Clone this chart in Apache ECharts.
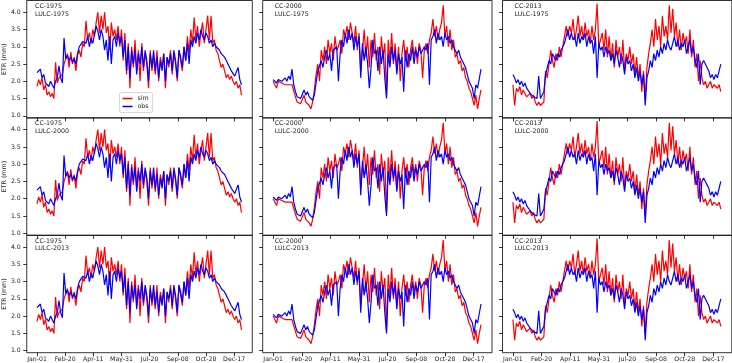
<!DOCTYPE html>
<html><head><meta charset="utf-8">
<script src="https://cdn.jsdelivr.net/npm/echarts@6/dist/echarts.min.js"></script>
<style>html,body{margin:0;padding:0;background:#fff}#c{width:732px;height:363px}</style>
</head><body><div id="c"></div>
<script>
// ---- data (one value every DAY_STEP days) ----
const DAY_STEP = 3;
const tickDays = [0, 50, 100, 150, 200, 250, 300, 350];
const tickLabels = ['Jan-01', 'Feb-20', 'Apr-11', 'May-31', 'Jul-20', 'Sep-08', 'Oct-28', 'Dec-17'];
const yTicks = [1.0, 1.5, 2.0, 2.5, 3.0, 3.5, 4.0];
const ccLabels = ['CC-1975', 'CC-2000', 'CC-2013'];
const lulcLabels = ['LULC-1975', 'LULC-2000', 'LULC-2013'];

const obsCC1975 = [
 2.25,2.2,2.35,2.1,2.2, 1.95,2.0,1.85,2.0,1.95,1.8,2.0, 2.1,2.45,2.1,1.95, 3.25,
 2.65,2.75,2.6,2.7,2.55,2.65,2.5,2.8,3.0,2.95,3.15, 3.2,3.1,3.3,3.0,3.25,3.1,
 3.35,3.6,3.45,3.2,3.5,3.3,2.9, 3.2,2.6,3.3,2.5,3.2,3.3,3.0,3.4,3.1,3.3,
 2.7,3.2,2.3,3.0,2.1,2.9,2.5,2.9,2.2,2.8, 2.5,3.0,2.4,2.9,2.6,2.0,2.8,2.4,2.9,2.3,
 2.7,2.1,2.6,2.3,2.8,2.0,2.7,2.5,2.8,2.3, 2.9,2.6,2.1,2.9,2.7,2.4,3.0,2.6,3.1,2.5,
 3.2,3.0,3.3,3.1,3.4,3.2,3.5,3.3,3.2,3.4,3.3,3.1,3.2,3.0,
 3.1,3.0,2.95,2.9,2.8,2.75,2.7,2.6,2.5,2.4,2.3,2.25,2.15,2.1,2.4,2.05,1.9];
const simCC1975 = [
 1.85,2.05,1.9,2.1,1.75,1.9,1.6,1.7,1.55,1.65,
 1.5,2.55,1.95,2.1,2.05,2.2,2.5,2.5,2.8,2.4,
 2.85,2.5,2.7,2.3,2.75,2.9,2.7,3.1,3.0,3.75,
 3.2,3.4,3.1,3.5,3.3,3.7,4.0,3.4,3.9,3.5,
 4.0,3.4,3.6,2.9,3.7,3.3,3.5,3.2,3.6,3.0,
 3.5,2.6,3.4,2.2,3.1,1.8,3.0,2.4,3.2,2.3,
 2.9,2.0,3.1,2.3,2.8,2.5,1.8,2.9,2.3,2.7,
 2.2,2.9,2.0,2.7,2.4,2.8,1.8,2.7,2.4,2.9,
 2.2,2.8,2.5,2.0,2.9,2.6,2.3,3.0,2.6,3.3,
 2.8,3.5,3.1,3.85,3.2,3.6,3.0,3.4,3.7,3.1,
 3.5,3.9,3.2,3.9,3.1,3.2,2.9,2.8,2.6,2.4,
 2.5,2.3,2.1,2.2,2.05,2.15,2.0,1.9,2.0,1.8,
 1.9,1.6];

const obsCC2000 = [
 2.05,2.1,1.95,2.05,2.1,2.0,2.05,2.1,2.0,2.15,
 2.05,2.35,1.9,1.7,1.55,1.6,1.5,1.55,1.75,1.6,
 1.7,1.55,1.5,1.45,1.6,1.95,2.3,2.25,2.6,2.4,
 2.7,2.9,2.6,2.8,2.3,2.9,2.9,3.0,2.0,2.8,
 3.2,3.0,3.4,3.1,3.5,3.2,3.4,2.9,3.3,3.0,
 3.3,2.1,3.1,2.6,3.0,2.5,1.8,2.4,3.2,2.8,
 2.9,2.3,3.0,2.5,2.9,2.1,1.5,2.8,2.4,3.0,
 2.6,2.9,2.2,2.8,2.5,2.7,1.7,2.9,2.4,2.8,
 2.6,3.0,2.5,2.9,2.7,3.0,2.8,2.9,3.0,2.9,
 3.1,1.9,3.2,3.3,3.5,3.1,3.4,3.2,3.3,3.0,
 3.4,3.2,3.3,3.1,3.2,3.0,3.0,2.8,2.9,2.7,
 2.65,2.5,2.4,2.2,2.0,1.9,1.8,1.5,1.9,1.8,
 1.85,2.35];
const simCC2000 = [
 2.0,1.95,1.8,2.0,1.95,1.95,1.95,1.9,1.95,1.9,
 1.95,1.9,1.85,1.55,1.4,1.45,1.35,1.4,1.6,1.4,
 1.45,1.3,1.2,1.4,1.75,2.2,2.5,2.0,2.9,2.6,
 3.0,2.5,3.2,2.8,3.1,2.6,3.3,2.9,3.0,3.2,
 2.8,3.5,3.3,3.6,3.2,3.7,3.4,3.1,3.6,2.9,
 3.4,2.3,2.9,3.5,2.7,3.3,2.4,3.2,2.7,3.4,
 2.6,3.0,2.2,3.3,2.7,3.1,1.6,3.2,2.6,3.4,
 2.5,3.1,2.3,3.0,2.0,2.8,3.2,2.6,3.0,2.4,
 2.9,3.2,2.7,3.0,2.5,3.1,2.9,2.1,2.9,3.1,
 2.8,3.2,3.4,3.8,3.3,3.6,3.2,3.5,3.7,4.2,
 3.3,3.6,3.0,3.5,2.9,3.2,2.7,2.8,2.5,2.6,
 2.3,2.4,2.1,2.0,1.8,1.7,1.5,1.3,1.6,1.2,
 1.5,1.75];

const obsCC2013 = [
 2.2,2.1,1.95,2.05,1.9,2.0,1.85,1.95,1.8,1.75,
 1.65,1.7,1.55,1.6,1.5,2.15,1.5,1.45,1.7,2.2,
 2.4,2.6,2.5,2.8,2.7,2.6,2.8,2.7,2.9,3.0,
 3.1,3.3,3.5,3.2,3.4,3.2,3.3,3.0,3.4,3.1,
 3.3,3.2,3.4,3.0,3.3,3.1,3.2,2.8,3.3,2.1,
 3.1,2.9,3.0,2.7,3.0,2.8,2.9,2.6,2.8,2.5,
 2.9,2.7,2.4,2.8,2.6,2.2,2.7,2.5,2.6,2.3,
 2.5,2.1,2.4,2.0,2.3,1.9,2.2,1.3,2.1,2.3,
 2.6,2.4,2.8,2.6,2.9,2.7,3.0,2.8,3.1,2.9,
 3.2,3.0,2.9,3.1,3.3,3.0,3.2,2.9,3.1,3.0,
 3.2,2.8,3.0,3.2,2.8,3.0,2.6,2.4,2.8,1.9,
 2.5,2.6,2.5,2.4,2.3,2.1,2.2,2.05,2.2,2.1,
 2.05,2.5];
const simCC2013 = [
 1.9,1.3,1.8,1.7,1.85,1.6,1.75,1.7,1.55,1.6,
 1.65,1.5,1.6,1.4,1.3,1.4,1.3,1.25,1.4,2.3,
 2.1,2.5,2.9,2.6,2.4,2.8,2.6,3.0,2.7,3.0,
 3.3,3.6,3.3,3.6,3.4,3.8,3.2,3.5,3.9,3.3,
 3.6,3.2,3.7,3.3,3.5,3.1,3.6,3.2,3.5,4.25,
 3.0,3.2,3.4,2.9,3.5,2.7,3.3,2.6,3.1,2.4,
 3.2,2.7,3.0,2.5,3.2,2.3,2.8,2.6,3.0,2.5,
 2.8,2.2,2.7,2.1,2.5,1.7,2.3,1.5,2.4,2.8,
 3.1,3.5,3.0,3.8,3.2,3.6,3.0,3.9,3.3,3.6,
 3.2,4.2,3.4,4.1,3.3,3.7,3.0,3.5,2.9,3.4,
 3.1,3.3,2.8,3.5,2.7,3.2,2.4,2.8,2.0,2.6,
 2.1,1.9,2.0,1.8,1.9,2.0,1.8,1.9,1.85,1.8,
 1.9,1.7];

const simByCol = [simCC1975, simCC2000, simCC2013];
const obsByCol = [obsCC1975, obsCC2000, obsCC2013];

// ---- layout ----
const FONT = 'DejaVu Sans';
const colLeft = [23, 262.7, 502.5], colW = 229.3;
const rowTop = [0.5, 117.9, 235.3], rowH = 117.4;
const X_MIN = -18.2, X_MAX = 382.2, Y_MIN = 0.94, Y_MAX = 4.34;

const grids = [], xAxes = [], yAxes = [], series = [], graphics = [];
for (let r = 0; r < 3; r++) {
  for (let c = 0; c < 3; c++) {
    const g = grids.length;
    grids.push({left: colLeft[c], top: rowTop[r], width: colW, height: rowH,
      show: true, borderColor: '#000', borderWidth: 0.8, backgroundColor: 'transparent'});
    xAxes.push({type: 'value', gridIndex: g, min: X_MIN, max: X_MAX, position: 'bottom',
      axisLine: {show: false, onZero: false}, splitLine: {show: false},
      axisTick: {show: true, customValues: tickDays, length: 3.5, lineStyle: {color: '#000', width: 0.8}},
      axisLabel: {show: r === 2, customValues: tickDays, margin: 4,
        fontSize: 6.2, fontFamily: FONT, color: '#222',
        formatter: v => tickLabels[tickDays.indexOf(Math.round(v))] || ''}});
    yAxes.push({type: 'value', gridIndex: g, min: Y_MIN, max: Y_MAX, position: 'left',
      axisLine: {show: false, onZero: false}, splitLine: {show: false},
      axisTick: {show: true, customValues: yTicks, length: 3.5, lineStyle: {color: '#000', width: 0.8}},
      axisLabel: {show: c === 0, customValues: yTicks, margin: 6,
        fontSize: 6.2, fontFamily: FONT, color: '#222', formatter: v => v.toFixed(1)},
      name: c === 0 ? 'ETR (mm)' : '', nameLocation: 'middle', nameGap: 12, nameRotate: 90,
      nameTextStyle: {fontSize: 6.3, fontFamily: FONT, color: '#222'}});
    const toPts = arr => arr.map((v, i) => [i * DAY_STEP, v]);
    series.push({type: 'line', name: 'sim', xAxisIndex: g, yAxisIndex: g,
      data: toPts(simByCol[c]), symbol: 'none', z: 2,
      lineStyle: {color: '#ff0000', width: 1.2}, itemStyle: {color: '#ff0000'}});
    series.push({type: 'line', name: 'obs', xAxisIndex: g, yAxisIndex: g,
      data: toPts(obsByCol[c]), symbol: 'none', z: 3,
      lineStyle: {color: '#0000ff', width: 1.2}, itemStyle: {color: '#0000ff'}});
    graphics.push({type: 'text', left: colLeft[c] + 12, top: rowTop[r] + 2,
      style: {text: ccLabels[c] + '\n' + lulcLabels[r], font: '6.3px "DejaVu Sans"',
        fill: '#222', lineHeight: 7.6}});
  }
}

const chart = echarts.init(document.getElementById('c'), null, {renderer: 'canvas'});
chart.setOption({
  animation: false,
  backgroundColor: '#fff',
  grid: grids, xAxis: xAxes, yAxis: yAxes, series: series, graphic: graphics,
  legend: {data: ['sim', 'obs'], orient: 'vertical', left: 119.5, top: 92.5,
    icon: 'rect', itemWidth: 10, itemHeight: 1.5, itemGap: 2, padding: [3, 4, 3, 3],
    textStyle: {fontSize: 6.3, fontFamily: FONT, color: '#222'},
    borderColor: '#ccc', borderWidth: 0.8, borderRadius: 2,
    backgroundColor: 'rgba(255,255,255,0.8)'}
});
</script>
</body></html>
